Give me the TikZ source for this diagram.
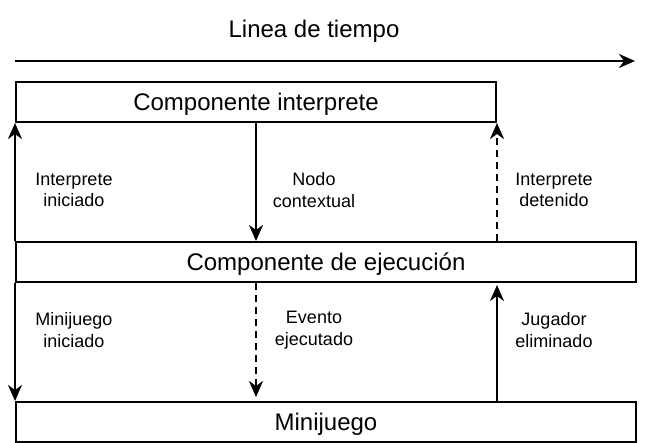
\documentclass[tikz,border=0pt]{standalone}
\usepackage{fontspec}
\setmainfont{Liberation Sans}
\usetikzlibrary{arrows.meta}
\begin{document}
\begin{tikzpicture}[x=1pt,y=-1pt,
  bigtext/.style={font=\fontsize{24}{28.8}\selectfont,text height=21pt,text depth=5pt},
  box/.style={bigtext,draw,line width=2pt,inner sep=0pt,anchor=north west,minimum height=40pt},
  lbl/.style={align=center,inner sep=0pt,font=\fontsize{18}{21.6}\selectfont},
  conn/.style={line width=2pt,-{Stealth[length=16pt,width=14pt,inset=5pt]}},
  dsh/.style={dash pattern=on 7pt off 5pt}]
\useasboundingbox (0,0) rectangle (652,442);
\node[bigtext,inner sep=0pt] (title) at (314,29) {Linea de tiempo};
\coordinate (t0) at (15,61);
\coordinate (t1) at (635,61);
\draw[conn] (t0) -- (t1);
\node[box,minimum width=480pt] (interp) at (15,81) {Componente interprete};
\node[box,minimum width=620pt] (exec) at (15,241) {Componente de ejecución};
\node[box,minimum width=620pt] (mini) at (15,401) {Minijuego};
% upper arrows
\draw[conn] (exec.north west) -- (interp.south west);
\draw[conn] (interp.south) -- (interp.south |- exec.north);
\draw[conn,dsh] (interp.south east |- exec.north) -- (interp.south east);
% lower arrows
\draw[conn] (exec.south west) -- (mini.north west);
\draw[conn,dsh] (interp.south |- exec.south) -- ([yshift=4pt]interp.south |- mini.north);
\draw[conn] (interp.south east |- mini.north) -- ([yshift=-2pt]interp.south east |- exec.south);
% labels
\node[lbl] (l1) at (74,190) {Interprete\\iniciado};
\node[lbl] (l2) at (314,190) {Nodo\\contextual};
\node[lbl] (l3) at (554,190) {Interprete\\detenido};
\node[lbl] (l4) at (74,330) {Minijuego\\iniciado};
\node[lbl] (l5) at (314,330) {Evento\\ejecutado};
\node[lbl] (l6) at (554,330) {Jugador\\eliminado};
\end{tikzpicture}
\end{document}
